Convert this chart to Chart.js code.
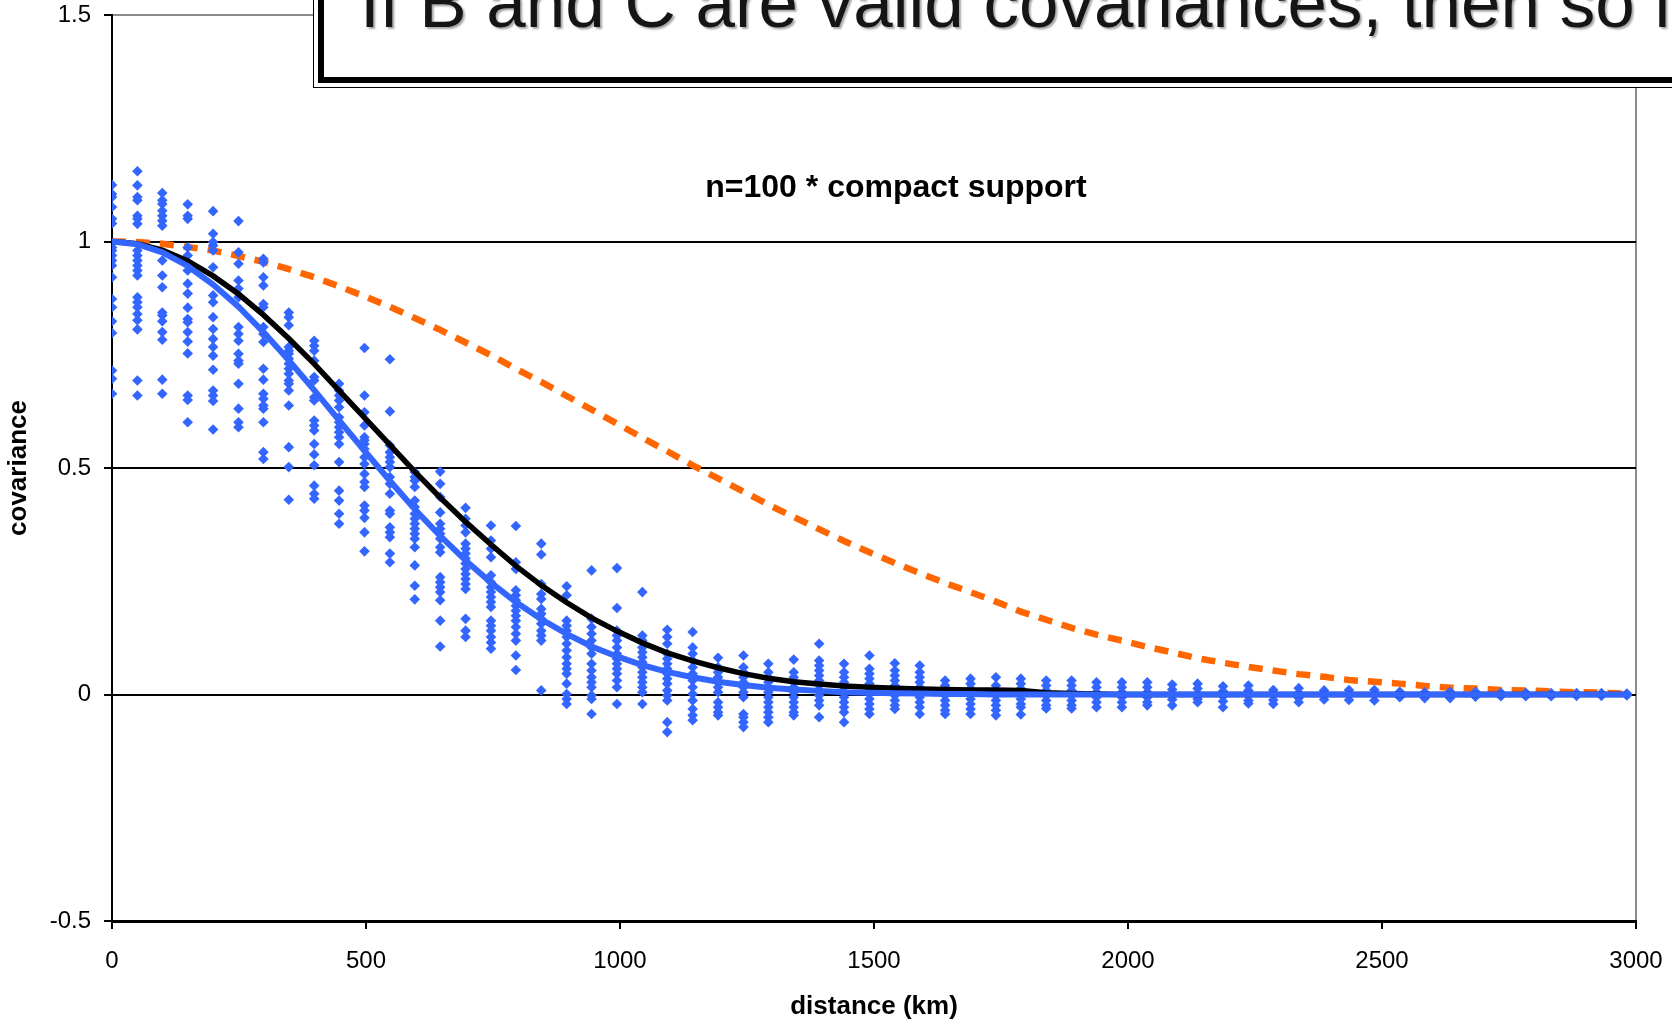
<!DOCTYPE html>
<html>
<head>
<meta charset="utf-8">
<script src="https://cdn.jsdelivr.net/npm/chart.js@4/dist/chart.umd.min.js"></script>
<style>
html,body{margin:0;padding:0;background:#fff;}
#wrap{position:relative;width:1672px;height:1020px;overflow:hidden;background:#fff;}
#c{position:absolute;left:0;top:0;}
#boxOuter{position:absolute;left:313px;top:-30px;width:1500px;height:118px;box-sizing:border-box;border-left:1.5px solid #000;border-bottom:1.5px solid #000;background:#fff;}
#boxInner{position:absolute;left:318px;top:-30px;width:1500px;height:113px;box-sizing:border-box;border-left:6px solid #000;border-bottom:6px solid #000;background:#fff;}
#banner{position:absolute;left:360px;top:-33px;font-family:'Liberation Sans',Arial,sans-serif;font-size:71px;line-height:71px;white-space:nowrap;color:#151515;text-shadow:2px 2px 2px rgba(0,0,0,0.35);}
</style>
</head>
<body>
<div id="wrap">
  <canvas id="c" width="1672" height="1020"></canvas>
  <div id="boxOuter"></div>
  <div id="boxInner"></div>
  <div id="banner"></div>
</div>
<script>
// ---------- data ----------
const bannerText = 'If B and C are valid covariances, then so is';
const chartTitle = 'n=100 * compact support';
const xAxisTitle = 'distance (km)';
const yAxisTitle = 'covariance';

const xTickValues = [0, 500, 1000, 1500, 2000, 2500, 3000];
const yTickValues = [-0.5, 0, 0.5, 1, 1.5];
const yTickLabels = ['-0.5', '0', '0.5', '1', '1.5'];

const distancesKm = [0, 50, 99, 149, 199, 249, 298, 348, 398, 447, 497, 547, 596, 646, 696, 746, 795, 845, 895, 944,
  994, 1044, 1093, 1143, 1193, 1243, 1292, 1342, 1392, 1441, 1491, 1541, 1590, 1640, 1690, 1740, 1789, 1839, 1889, 1938,
  1988, 2038, 2087, 2137, 2187, 2237, 2286, 2336, 2386, 2435, 2485, 2535, 2584, 2634, 2684, 2734, 2783, 2833, 2883, 2932, 2982];

// orange dashed curve (compact support function)
const supportCurve = [1, 0.999, 0.995, 0.988, 0.980, 0.968, 0.955, 0.939, 0.921, 0.901, 0.879, 0.856, 0.831, 0.805, 0.777,
  0.749, 0.719, 0.690, 0.659, 0.629, 0.598, 0.567, 0.537, 0.506, 0.477, 0.448, 0.419, 0.392, 0.365, 0.339, 0.314, 0.290,
  0.268, 0.246, 0.226, 0.205, 0.183, 0.165, 0.147, 0.132, 0.119, 0.105, 0.093, 0.080, 0.070, 0.061, 0.053, 0.045, 0.039,
  0.032, 0.028, 0.024, 0.019, 0.015, 0.013, 0.010, 0.009, 0.007, 0.005, 0.004, 0.002];

// black solid curve (true covariance)
const trueCovariance = [1, 0.995, 0.981, 0.957, 0.924, 0.884, 0.838, 0.786, 0.730, 0.671, 0.611, 0.551, 0.492, 0.435, 0.381,
  0.331, 0.284, 0.241, 0.203, 0.169, 0.140, 0.114, 0.092, 0.074, 0.059, 0.046, 0.036, 0.028, 0.023, 0.019, 0.016, 0.014,
  0.012, 0.011, 0.010, 0.010, 0.009, 0.004, 0.002, 0.001, 0, 0, 0, 0, 0, 0, 0, 0, 0, 0, 0, 0, 0, 0, 0, 0, 0, 0, 0, 0, 0];

// blue solid curve (localised covariance)
const localizedCovariance = [1, 0.994, 0.976, 0.946, 0.905, 0.856, 0.800, 0.738, 0.672, 0.605, 0.538, 0.472, 0.409, 0.350,
  0.296, 0.247, 0.204, 0.166, 0.134, 0.106, 0.084, 0.065, 0.050, 0.038, 0.028, 0.021, 0.015, 0.011, 0.008, 0.005, 0.004,
  0.003, 0.002, 0.001, 0.001, 0, 0, 0, 0, 0, 0, 0, 0, 0, 0, 0, 0, 0, 0, 0, 0, 0, 0, 0, 0, 0, 0, 0, 0, 0, 0];

// blue diamonds: sampled (n=100) localised covariances, one column per distance
const sampleColumns = [
  [1.125, 1.105, 1.098, 1.076, 1.050, 1.040, 0.987, 0.980, 0.969, 0.958, 0.947, 0.921, 0.873, 0.855, 0.824, 0.798, 0.715, 0.697, 0.664],
  [1.155, 1.124, 1.098, 1.091, 1.057, 1.050, 1.039, 0.980, 0.969, 0.958, 0.947, 0.936, 0.925, 0.877, 0.866, 0.855, 0.840, 0.826, 0.806, 0.693, 0.660],
  [1.107, 1.091, 1.083, 1.068, 1.057, 1.046, 1.035, 0.958, 0.925, 0.899, 0.843, 0.837, 0.824, 0.800, 0.783, 0.695, 0.664],
  [1.082, 1.057, 1.050, 0.987, 0.969, 0.954, 0.936, 0.907, 0.885, 0.854, 0.829, 0.822, 0.800, 0.779, 0.753, 0.660, 0.650, 0.601],
  [1.067, 1.017, 0.999, 0.991, 0.980, 0.943, 0.881, 0.866, 0.833, 0.807, 0.785, 0.767, 0.748, 0.717, 0.671, 0.660, 0.648, 0.585],
  [1.045, 0.976, 0.951, 0.914, 0.896, 0.877, 0.811, 0.796, 0.781, 0.752, 0.737, 0.730, 0.686, 0.631, 0.601, 0.590],
  [0.962, 0.954, 0.921, 0.903, 0.862, 0.855, 0.811, 0.796, 0.778, 0.719, 0.695, 0.664, 0.653, 0.638, 0.631, 0.601, 0.535, 0.520],
  [0.843, 0.833, 0.815, 0.767, 0.759, 0.752, 0.741, 0.730, 0.719, 0.708, 0.693, 0.686, 0.671, 0.638, 0.546, 0.502, 0.430],
  [0.781, 0.770, 0.759, 0.737, 0.701, 0.693, 0.656, 0.649, 0.605, 0.594, 0.583, 0.553, 0.530, 0.506, 0.461, 0.443, 0.432],
  [0.686, 0.671, 0.660, 0.649, 0.634, 0.612, 0.601, 0.590, 0.579, 0.568, 0.553, 0.513, 0.450, 0.428, 0.399, 0.377],
  [0.765, 0.660, 0.623, 0.594, 0.568, 0.561, 0.553, 0.542, 0.524, 0.509, 0.487, 0.469, 0.458, 0.417, 0.406, 0.390, 0.358, 0.316],
  [0.740, 0.625, 0.550, 0.535, 0.524, 0.513, 0.502, 0.480, 0.465, 0.443, 0.406, 0.399, 0.369, 0.358, 0.347, 0.311, 0.292],
  [0.491, 0.480, 0.472, 0.458, 0.428, 0.414, 0.399, 0.388, 0.377, 0.366, 0.355, 0.344, 0.325, 0.285, 0.240, 0.210],
  [0.492, 0.465, 0.436, 0.402, 0.377, 0.366, 0.355, 0.344, 0.325, 0.314, 0.259, 0.248, 0.237, 0.226, 0.208, 0.163, 0.106],
  [0.412, 0.388, 0.373, 0.358, 0.333, 0.322, 0.311, 0.300, 0.289, 0.277, 0.266, 0.255, 0.244, 0.233, 0.167, 0.141, 0.127],
  [0.373, 0.340, 0.322, 0.303, 0.263, 0.248, 0.237, 0.226, 0.215, 0.204, 0.193, 0.163, 0.152, 0.141, 0.127, 0.115, 0.101],
  [0.372, 0.292, 0.277, 0.230, 0.219, 0.208, 0.196, 0.185, 0.174, 0.163, 0.149, 0.134, 0.119, 0.086, 0.054],
  [0.333, 0.309, 0.244, 0.222, 0.211, 0.189, 0.178, 0.167, 0.156, 0.141, 0.130, 0.119, 0.009],
  [0.239, 0.219, 0.163, 0.152, 0.141, 0.127, 0.112, 0.097, 0.082, 0.068, 0.057, 0.046, 0.024, 0.001, -0.010, -0.021],
  [0.274, 0.167, 0.149, 0.134, 0.119, 0.104, 0.090, 0.068, 0.053, 0.038, 0.027, 0.016, -0.002, -0.010, -0.043],
  [0.279, 0.191, 0.141, 0.130, 0.119, 0.104, 0.090, 0.079, 0.068, 0.057, 0.046, 0.031, 0.016, -0.021],
  [0.226, 0.130, 0.119, 0.104, 0.093, 0.082, 0.071, 0.060, 0.049, 0.038, 0.027, 0.016, 0.005, -0.021],
  [0.143, 0.127, 0.112, 0.090, 0.079, 0.068, 0.057, 0.046, 0.035, 0.024, 0.009, -0.002, -0.013, -0.061, -0.083],
  [0.138, 0.104, 0.090, 0.075, 0.060, 0.046, 0.031, 0.016, 0.001, -0.013, -0.032, -0.046, -0.057],
  [0.081, 0.060, 0.049, 0.038, 0.027, 0.016, 0.005, -0.017, -0.028, -0.039, -0.046],
  [0.086, 0.060, 0.049, 0.038, 0.027, 0.016, 0.005, -0.006, -0.043, -0.050, -0.061, -0.072],
  [0.068, 0.049, 0.038, 0.027, 0.016, 0.005, -0.006, -0.017, -0.028, -0.039, -0.050, -0.061],
  [0.077, 0.049, 0.038, 0.027, 0.016, 0.005, -0.006, -0.017, -0.028, -0.039, -0.046],
  [0.112, 0.075, 0.064, 0.053, 0.042, 0.031, 0.020, 0.009, -0.002, -0.013, -0.024, -0.050],
  [0.068, 0.049, 0.038, 0.027, 0.016, 0.005, -0.006, -0.017, -0.028, -0.039, -0.061],
  [0.086, 0.057, 0.046, 0.035, 0.024, 0.013, 0.001, -0.010, -0.021, -0.032, -0.043],
  [0.069, 0.053, 0.042, 0.031, 0.020, 0.009, -0.002, -0.013, -0.024, -0.032],
  [0.064, 0.049, 0.038, 0.027, 0.016, 0.005, -0.006, -0.017, -0.028, -0.043],
  [0.031, 0.020, 0.009, -0.002, -0.013, -0.024, -0.035, -0.043],
  [0.035, 0.024, 0.013, 0.001, -0.010, -0.021, -0.032, -0.043],
  [0.038, 0.020, 0.009, -0.002, -0.013, -0.024, -0.035, -0.046],
  [0.035, 0.024, 0.013, 0.001, -0.010, -0.021, -0.028, -0.044],
  [0.031, 0.020, 0.009, -0.002, -0.013, -0.024, -0.031],
  [0.031, 0.020, 0.009, -0.002, -0.013, -0.024, -0.031],
  [0.027, 0.016, 0.005, -0.006, -0.017, -0.028],
  [0.027, 0.016, 0.005, -0.006, -0.017, -0.028],
  [0.027, 0.016, 0.005, -0.006, -0.017, -0.024],
  [0.022, 0.011, 0, -0.011, -0.024],
  [0.024, 0.013, 0.001, -0.010, -0.017],
  [0.018, 0.007, -0.004, -0.015, -0.028],
  [0.020, 0.009, -0.002, -0.013, -0.020],
  [0.010, 0, -0.012, -0.021],
  [0.014, 0.003, -0.008, -0.017],
  [0.009, -0.002, -0.011],
  [0.010, 0, -0.012],
  [0.010, 0, -0.013],
  [0.006, 0, -0.006],
  [0.005, 0, -0.008],
  [0.006, 0, -0.008],
  [0.006, 0, -0.005],
  [0.004, 0, -0.004],
  [0.004, 0, -0.004],
  [0.003, 0, -0.004],
  [0.003, 0, -0.003],
  [0.003, 0, -0.003],
  [0.002, 0, -0.002]
];

// ---------- build chart ----------
document.getElementById('banner').textContent = bannerText;

const toPoints = (ys) => ys.map((y, i) => ({x: distancesKm[i], y: y}));
const samplePoints = [];
sampleColumns.forEach((col, i) => col.forEach(v => samplePoints.push({x: distancesKm[i], y: v})));

const BLUE = '#3366ff';
const ORANGE = '#ff6600';
const FONT = "'Liberation Sans', Arial, sans-serif";

const innerTitle = {
  id: 'innerTitle',
  afterDraw(chart) {
    const ctx = chart.ctx;
    ctx.save();
    ctx.font = "bold 32px " + FONT;
    ctx.fillStyle = '#000';
    ctx.textAlign = 'center';
    ctx.textBaseline = 'middle';
    ctx.fillText(chartTitle, 896, 188);
    ctx.restore();
  }
};

new Chart(document.getElementById('c'), {
  type: 'scatter',
  data: {
    datasets: [
      {label: 'compact support', data: toPoints(supportCurve), showLine: true, borderColor: ORANGE, borderWidth: 6.5,
        borderDash: [14, 10], borderCapStyle: 'butt', pointRadius: 0, tension: 0, order: 4},
      {label: 'samples', data: samplePoints, showLine: false, pointStyle: 'rectRot', pointRadius: 5.3,
        pointHoverRadius: 5.3, backgroundColor: BLUE, borderColor: BLUE, pointBorderWidth: 0, order: 3},
      {label: 'true', data: toPoints(trueCovariance), showLine: true, borderColor: '#000', borderWidth: 5.5,
        pointRadius: 0, tension: 0, order: 2},
      {label: 'localised', data: toPoints(localizedCovariance), showLine: true, borderColor: BLUE, borderWidth: 6,
        pointRadius: 0, tension: 0, borderCapStyle: 'round', order: 1}
    ]
  },
  options: {
    responsive: false,
    animation: false,
    devicePixelRatio: 1,
    layout: {padding: {left: 0, right: 36, top: 15, bottom: 0}},
    plugins: {legend: {display: false}, tooltip: {enabled: false}},
    events: [],
    scales: {
      x: {
        type: 'linear', position: 'bottom', min: 0, max: 3000,
        afterBuildTicks: (scale) => { scale.ticks = xTickValues.map(v => ({value: v})); },
        afterFit: (scale) => { scale.height = 99; scale.paddingLeft = 0; scale.paddingRight = 0; },
        ticks: {color: '#000', font: {family: FONT, size: 24}, padding: 18,
          maxRotation: 0, autoSkip: false, callback: (v) => String(v)},
        grid: {drawOnChartArea: true, drawTicks: true, tickLength: 8, tickWidth: 2, tickColor: '#000',
          color: (c) => (c.tick && c.tick.value === 3000) ? '#8c8c8c' : 'rgba(0,0,0,0)', lineWidth: 2},
        border: {display: true, color: '#000', width: 3},
        title: {display: true, text: xAxisTitle, color: '#000',
          font: {family: FONT, size: 26, weight: 'bold', lineHeight: 1.05}, padding: {top: 0, bottom: 0}}
      },
      y: {
        type: 'linear', position: 'left', min: -0.5, max: 1.5,
        afterBuildTicks: (scale) => { scale.ticks = yTickValues.map(v => ({value: v})); },
        afterFit: (scale) => { scale.width = 112; scale.paddingTop = 0; scale.paddingBottom = 0; },
        ticks: {color: '#000', font: {family: FONT, size: 24}, padding: 13,
          callback: (v) => yTickLabels[yTickValues.indexOf(v)]},
        grid: {drawOnChartArea: true, drawTicks: true, tickLength: 8, tickWidth: 2, tickColor: '#000',
          color: (c) => (c.tick && c.tick.value === 1.5) ? '#8c8c8c' : '#000', lineWidth: 2},
        border: {display: true, color: '#000', width: 2},
        title: {display: true, text: yAxisTitle, color: '#000',
          font: {family: FONT, size: 26, weight: 'bold'}, padding: {top: 3, bottom: 0}}
      }
    }
  },
  plugins: [innerTitle]
});
</script>
</body>
</html>
